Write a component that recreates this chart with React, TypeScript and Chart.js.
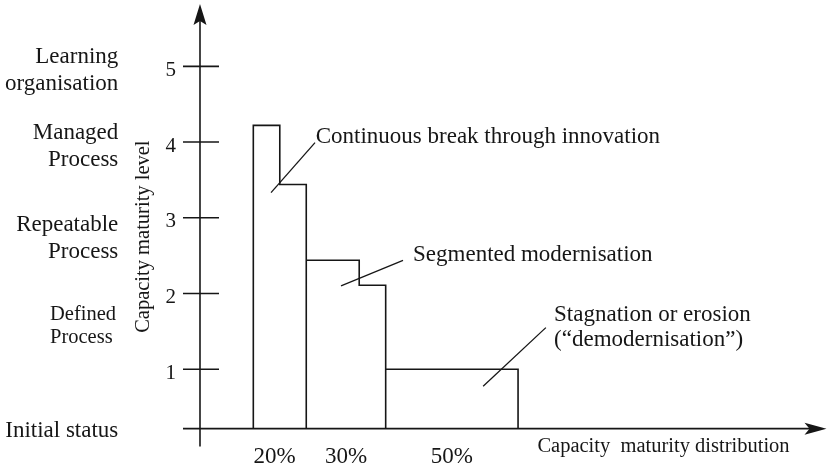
import React, { useEffect, useRef } from "react";
import { Chart, registerables } from "chart.js";

Chart.register(...registerables);

// ---- data ----
const distributionLabels = ["20%", "30%", "50%"];
const distributionLabelCenters = [8, 35, 75];
const stepStarts = [0, 10, 20, 40, 50];
const stepEnds = [10, 20, 40, 50, 100];
const stepLevels = [4.22, 3.44, 2.44, 2.11, 1.0];
const blockStarts = [0, 20, 50];
const blockEnds = [20, 50, 100];
const levelTicks = [1, 2, 3, 4, 5];
const levelNames = [
  ["Learning", "organisation"],
  ["Managed", "Process"],
  ["Repeatable", "Process"],
  ["Defined", "Process"],
  ["Initial status"],
];
const annotationTexts = [
  ["Continuous break through innovation"],
  ["Segmented modernisation"],
  ["Stagnation or erosion", "(\u201cdemodernisation\u201d)"],
];
const yTitle = "Capacity maturity level";
const xTitle = "Capacity  maturity distribution";

// ---- layout (in scale units) ----
const X_MIN = -26.56;
const X_MAX = 216.7;
const Y_MIN = 0;
const Y_MAX = 5.81;
const BASE = 0.216; // level of the horizontal axis
const Y_AXIS_X = -20.14; // position of the vertical axis
const levelNameBaselines = [
  [5.044, 4.683],
  [4.041, 3.679],
  [2.821, 2.47],
  [1.646, 1.348],
  [0.107],
];
const annotationAnchors = [
  { x: 23.57, y: [3.988] },
  { x: 60.33, y: [2.425] },
  { x: 113.6, y: [1.642, 1.303] },
];
const leaderFrom = [
  [23.31, 3.992],
  [56.55, 2.438],
  [110.5, 1.55],
];
const leaderTo = [
  [6.69, 3.332],
  [33.13, 2.102],
  [86.81, 0.775],
];

const INK = "#161616";
const FONT = '"Liberation Serif", "Times New Roman", serif';

function buildOutline() {
  const pts: { x: number; y: number }[] = [];
  for (let i = 0; i < stepLevels.length; i++) {
    if (blockStarts.includes(stepStarts[i])) pts.push({ x: stepStarts[i], y: BASE });
    pts.push({ x: stepStarts[i], y: stepLevels[i] });
    pts.push({ x: stepEnds[i], y: stepLevels[i] });
    if (blockEnds.includes(stepEnds[i])) pts.push({ x: stepEnds[i], y: BASE });
  }
  return pts;
}

const decorPlugin = {
  id: "decor",
  afterDatasetsDraw(chart: any) {
    const ctx = chart.ctx as CanvasRenderingContext2D;
    const xs = chart.scales.x;
    const ys = chart.scales.y;
    const ca = chart.chartArea;
    const X = (v: number) => xs.getPixelForValue(v);
    const Y = (v: number) => ys.getPixelForValue(v);
    ctx.save();
    ctx.strokeStyle = INK;
    ctx.fillStyle = INK;
    ctx.lineWidth = 1.6;

    // vertical axis
    const ax = X(Y_AXIS_X);
    const top = ca.top - 1;
    ctx.beginPath();
    ctx.moveTo(ax, Y(-0.02));
    ctx.lineTo(ax, top + 16);
    ctx.stroke();
    ctx.beginPath();
    ctx.moveTo(ax, top);
    ctx.lineTo(ax - 6.5, top + 21);
    ctx.lineTo(ax, top + 17);
    ctx.lineTo(ax + 6.5, top + 21);
    ctx.closePath();
    ctx.fill();

    // horizontal axis
    const ay = Y(BASE);
    const right = ca.right - 0.5;
    ctx.beginPath();
    ctx.moveTo(ca.left, ay);
    ctx.lineTo(right - 16, ay);
    ctx.stroke();
    ctx.beginPath();
    ctx.moveTo(right, ay);
    ctx.lineTo(right - 22, ay - 6);
    ctx.lineTo(right - 17, ay);
    ctx.lineTo(right - 22, ay + 6);
    ctx.closePath();
    ctx.fill();

    // tick marks and numbers
    ctx.font = `21px ${FONT}`;
    ctx.textAlign = "right";
    ctx.textBaseline = "alphabetic";
    levelTicks.forEach((t) => {
      const py = Y(t);
      ctx.beginPath();
      ctx.moveTo(ax - 17, py);
      ctx.lineTo(ax + 19, py);
      ctx.stroke();
      ctx.fillText(String(t), X(-29.2), py + 9.5);
    });

    // level names on the left
    levelNames.forEach((lines, i) => {
      const small = i === 3;
      ctx.font = `${small ? 20.5 : 23}px ${FONT}`;
      ctx.textAlign = small ? "left" : "right";
      const lx = small ? X(-76.8) : X(-51.0);
      lines.forEach((line, j) => {
        ctx.fillText(line, lx, Y(levelNameBaselines[i][j]));
      });
    });

    // y title
    ctx.save();
    ctx.translate(X(-41.3), Y(2.751));
    ctx.rotate(-Math.PI / 2);
    ctx.font = `20.5px ${FONT}`;
    ctx.textAlign = "center";
    ctx.textBaseline = "middle";
    ctx.fillText(yTitle, 0, 0);
    ctx.restore();

    // x labels
    ctx.font = `23px ${FONT}`;
    ctx.textAlign = "center";
    ctx.textBaseline = "alphabetic";
    distributionLabels.forEach((lab, i) => {
      ctx.fillText(lab, X(distributionLabelCenters[i]), Y(-0.236));
    });

    // x title
    ctx.font = `20.5px ${FONT}`;
    ctx.textAlign = "left";
    ctx.fillText(xTitle, X(107.3), Y(-0.096));

    // annotations
    ctx.font = `23px ${FONT}`;
    ctx.textAlign = "left";
    annotationTexts.forEach((lines, i) => {
      lines.forEach((line, j) => {
        ctx.fillText(line, X(annotationAnchors[i].x), Y(annotationAnchors[i].y[j]));
      });
    });
    ctx.restore();
  },
};

export default function App() {
  const ref = useRef<HTMLCanvasElement | null>(null);
  useEffect(() => {
    if (!ref.current) return;
    const datasets: any[] = [
      {
        data: buildOutline(),
        showLine: true,
        borderColor: INK,
        borderWidth: 1.6,
        pointRadius: 0,
        fill: false,
        tension: 0,
        clip: false,
      },
    ];
    leaderFrom.forEach((f, i) => {
      datasets.push({
        data: [
          { x: f[0], y: f[1] },
          { x: leaderTo[i][0], y: leaderTo[i][1] },
        ],
        showLine: true,
        borderColor: INK,
        borderWidth: 1.3,
        pointRadius: 0,
        fill: false,
        clip: false,
      });
    });
    const chart = new Chart(ref.current, {
      type: "scatter",
      data: { datasets },
      options: {
        animation: false,
        responsive: false,
        devicePixelRatio: 1,
        layout: { padding: { left: 183, right: 0, top: 5, bottom: 25 } },
        plugins: { legend: { display: false }, tooltip: { enabled: false } },
        events: [],
        scales: {
          x: { type: "linear", min: X_MIN, max: X_MAX, display: false },
          y: { type: "linear", min: Y_MIN, max: Y_MAX, display: false },
        },
      },
      plugins: [decorPlugin],
    } as any);
    return () => chart.destroy();
  }, []);
  return (
    <div style={{ position: "absolute", left: 0, top: 0, width: 827, height: 470, background: "#fff" }}>
      <canvas ref={ref} width={827} height={470} style={{ display: "block" }} />
    </div>
  );
}
